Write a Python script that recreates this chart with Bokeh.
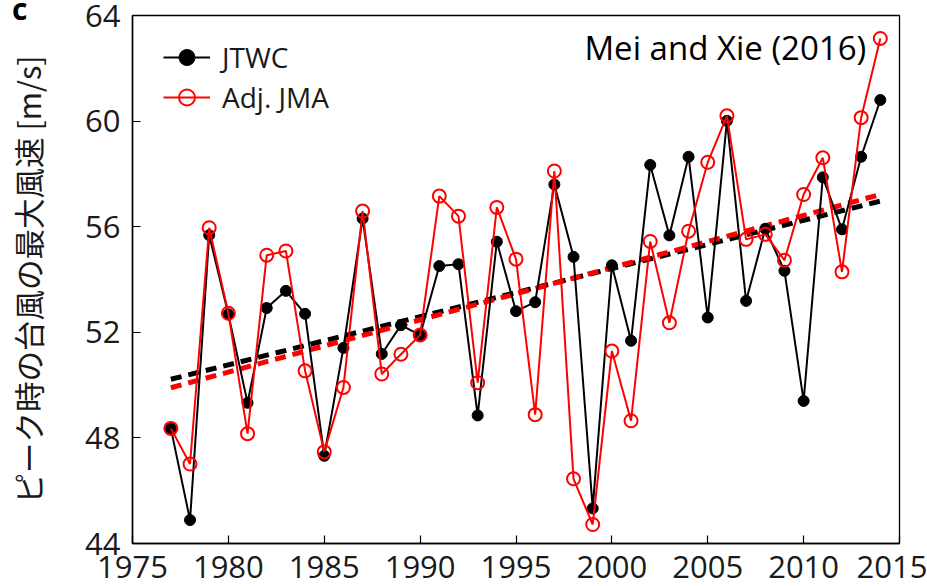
import math
from bokeh.plotting import figure
from bokeh.models import Range1d, FixedTicker, Legend, LegendItem, Label, Div
from bokeh.embed import file_html
from bokeh.resources import INLINE

years = list(range(1977, 2015))
jtwc = [48.36, 44.89, 55.68, 52.68, 49.33, 52.92, 53.57, 52.70, 47.32, 51.41,
        56.31, 51.18, 52.27, 51.89, 54.51, 54.58, 48.85, 55.43, 52.80, 53.14,
        57.60, 54.86, 45.33, 54.54, 51.68, 58.34, 55.67, 58.65, 52.56, 60.01,
        53.19, 55.92, 54.33, 49.40, 57.87, 55.90, 58.65, 60.80]
adj_jma = [48.36, 47.01, 55.96, 52.72, 48.16, 54.92, 55.08, 50.54, 47.47, 49.91,
           56.59, 50.42, 51.17, 51.90, 57.16, 56.40, 50.09, 56.73, 54.77, 48.88,
           58.11, 46.45, 44.72, 51.29, 48.65, 55.44, 52.36, 55.83, 58.44, 60.20,
           55.52, 55.71, 54.73, 57.22, 58.61, 54.29, 60.13, 63.13]
trend_years = [1977, 2014]
trend_jtwc = [50.22, 56.97]
trend_jma = [49.90, 57.22]

x_ticks = [1975, 1980, 1985, 1990, 1995, 2000, 2005, 2010, 2015]
y_ticks = [44, 48, 52, 56, 60, 64]

FONT = "Open Sans"

p = figure(width=927, height=586, output_backend="svg", toolbar_location=None,
           x_range=Range1d(1975, 2015), y_range=Range1d(44, 64),
           min_border_left=132, min_border_right=28, min_border_top=15,
           min_border_bottom=43)
p.frame_width = 767
p.frame_height = 528
p.background_fill_color = "white"
p.border_fill_color = "white"
p.outline_line_color = "black"
p.outline_line_width = 1.3
p.grid.visible = False

for ax, ticks in ((p.xaxis, x_ticks), (p.yaxis, y_ticks)):
    ax.ticker = FixedTicker(ticks=ticks)
    ax.major_tick_in = 8
    ax.major_tick_out = 0
    ax.minor_tick_line_color = None
    ax.axis_line_color = "black"
    ax.axis_line_width = 1.5
    ax.major_tick_line_color = "black"
    ax.major_tick_line_width = 1.2
    ax.major_label_text_font = FONT
    ax.major_label_text_font_size = "31px"
    ax.major_label_text_color = "#1a1a1a"
p.xaxis.major_label_standoff = 12
p.yaxis.major_label_standoff = 12

p.yaxis.axis_label = "ピーク時の台風の最大風速 [m/s]"
p.yaxis.axis_label_text_font = "Noto Sans CJK JP"
p.yaxis.axis_label_text_font_size = "30.5px"
p.yaxis.axis_label_text_font_style = "normal"
p.yaxis.axis_label_text_color = "#1a1a1a"
p.yaxis.axis_label_standoff = 32

# trend lines
p.line(trend_years, trend_jtwc, line_color="black", line_width=5, line_dash="11 7")
p.line(trend_years, trend_jma, line_color="red", line_width=5, line_dash="11 7")

# series
rj_l = p.line(years, jtwc, line_color="black", line_width=2)
rj_c = p.scatter(years, jtwc, size=11, fill_color="black", line_color="black")
rm_l = p.line(years, adj_jma, line_color="red", line_width=2)
rm_c = p.scatter(years, adj_jma, size=13, fill_color=None, line_color="red", line_width=2)

legend = Legend(items=[LegendItem(label="JTWC", renderers=[rj_l, rj_c]),
                       LegendItem(label="Adj. JMA", renderers=[rm_l, rm_c])],
                location=(31, 426), margin=0, padding=0, spacing=0,
                glyph_width=47, glyph_height=40, label_height=40,
                label_standoff=12, label_text_font=FONT,
                label_text_font_size="28px", label_text_color="#1a1a1a",
                border_line_color=None, background_fill_alpha=0)
p.add_layout(legend)

p.add_layout(Label(x=2013.27, y=62.77, text="Mei and Xie (2016)", text_align="right",
                   text_baseline="middle", text_font=FONT, text_font_size="33px",
                   text_color="black"))

try:
    p.elements = [Div(text='<span style="font-family:\'Open Sans\';font-weight:bold;'
                           'font-size:30px;line-height:0.6;color:black">c</span>',
                      styles={"position": "absolute", "left": "12px", "top": "0px",
                              "font-family": "Open Sans", "font-weight": "bold",
                              "font-size": "30px", "line-height": "0.6",
                              "color": "black"})]
except Exception:
    pass

open("out.html", "w").write(file_html(p, INLINE))
